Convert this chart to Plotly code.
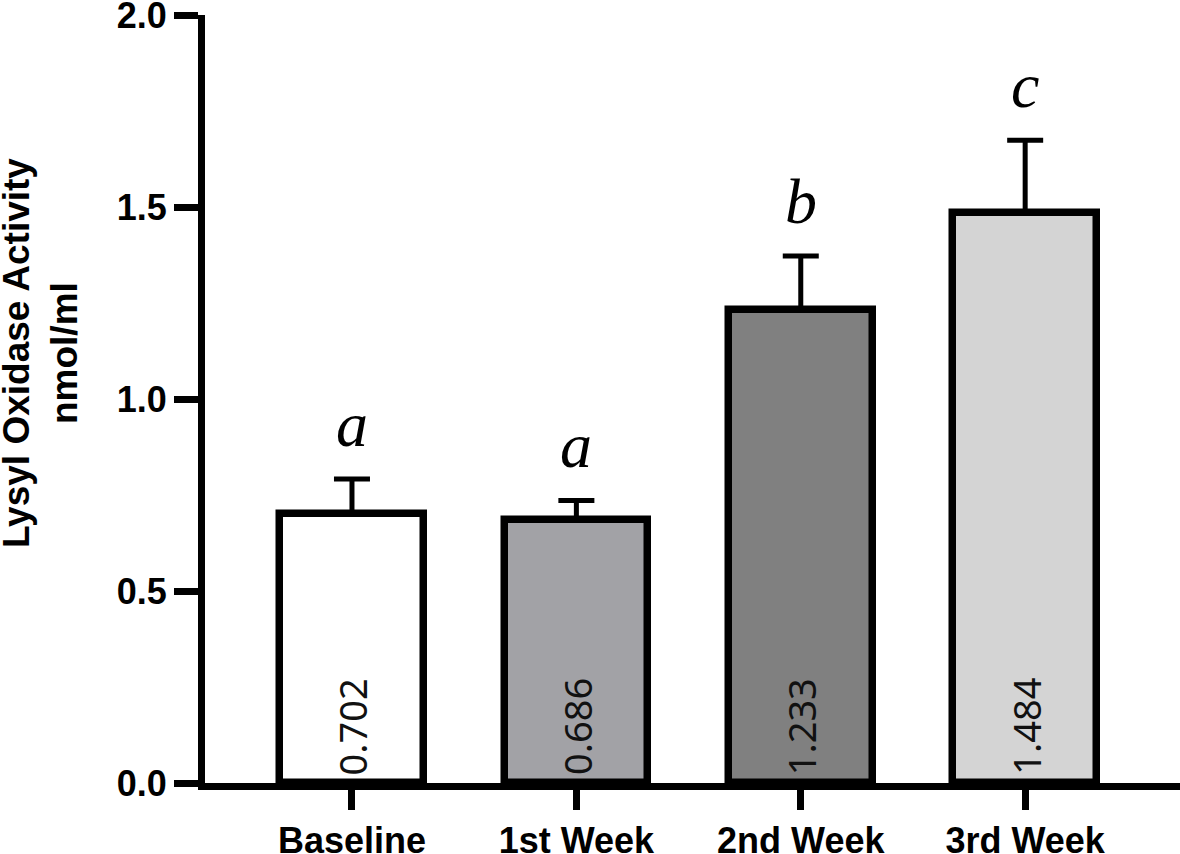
import plotly.graph_objects as go

categories = ["Baseline", "1st Week", "2nd Week", "3rd Week"]
means = [0.702, 0.686, 1.233, 1.484]
errors = [0.09, 0.05, 0.14, 0.19]
letters = ["a", "a", "b", "c"]
fill_colors = ["#ffffff", "#a2a2a6", "#808080", "#d4d4d4"]
y_ticks = [0.0, 0.5, 1.0, 1.5, 2.0]

fig = go.Figure()
fig.add_trace(go.Bar(
    x=categories,
    y=means,
    width=0.64,
    marker=dict(color=fill_colors, line=dict(color="black", width=7.5)),
    error_y=dict(type="data", array=errors, arrayminus=[0] * len(errors),
                 symmetric=False, color="black", thickness=5, width=18),
    cliponaxis=False,
    showlegend=False,
))

# value labels inside bars (rotated)
for c, m in zip(categories, means):
    fig.add_annotation(x=c, y=0, text=f"{m:.3f}", showarrow=False,
                       textangle=-90, yanchor="bottom", xanchor="center",
                       yshift=6,
                       font=dict(family="Noto Sans", size=38, color="#111111"))

# significance letters
for c, m, e, L in zip(categories, means, errors, letters):
    fig.add_annotation(x=c, y=m + e, text=L, showarrow=False,
                       yanchor="bottom", yshift=17,
                       font=dict(family="Liberation Serif", size=64, color="black",
                                 style="italic"))

fig.add_annotation(xref="paper", yref="paper", x=-0.168, y=0.56,
                   text="Lysyl Oxidase Activity<br>nmol/ml", textangle=-90,
                   showarrow=False, xanchor="center", yanchor="middle",
                   font=dict(family="Liberation Sans", size=37, color="black",
                             weight="bold"))

fig.update_layout(
    width=1180, height=854,
    margin=dict(l=205, r=0, t=15, b=71),
    plot_bgcolor="white", paper_bgcolor="white",
    bargap=0,
    font=dict(family="Liberation Sans", color="black"),
)
fig.update_xaxes(
    range=[-0.655, 3.69], showline=True, linecolor="black", linewidth=7,
    ticks="outside", ticklen=20, tickwidth=7, tickcolor="black",
    tickfont=dict(family="Liberation Sans", size=36, color="black", weight="bold"),
    showgrid=False, zeroline=False, automargin=False, ticklabeloverflow="allow",
)
fig.update_yaxes(
    range=[0, 2.0005], tickvals=y_ticks, ticktext=[f"{v:.1f}" for v in y_ticks],
    showline=True, linecolor="black", linewidth=7,
    ticks="outside", ticklen=24, tickwidth=7, tickcolor="black",
    tickfont=dict(family="Liberation Sans", size=36, color="black", weight="bold"),
    showgrid=False, zeroline=False, automargin=False, ticklabeloverflow="allow",
)

fig.write_html("out.html", config={"displayModeBar": False},
               post_script="document.body.style.margin='0';document.body.style.overflow='hidden';")
